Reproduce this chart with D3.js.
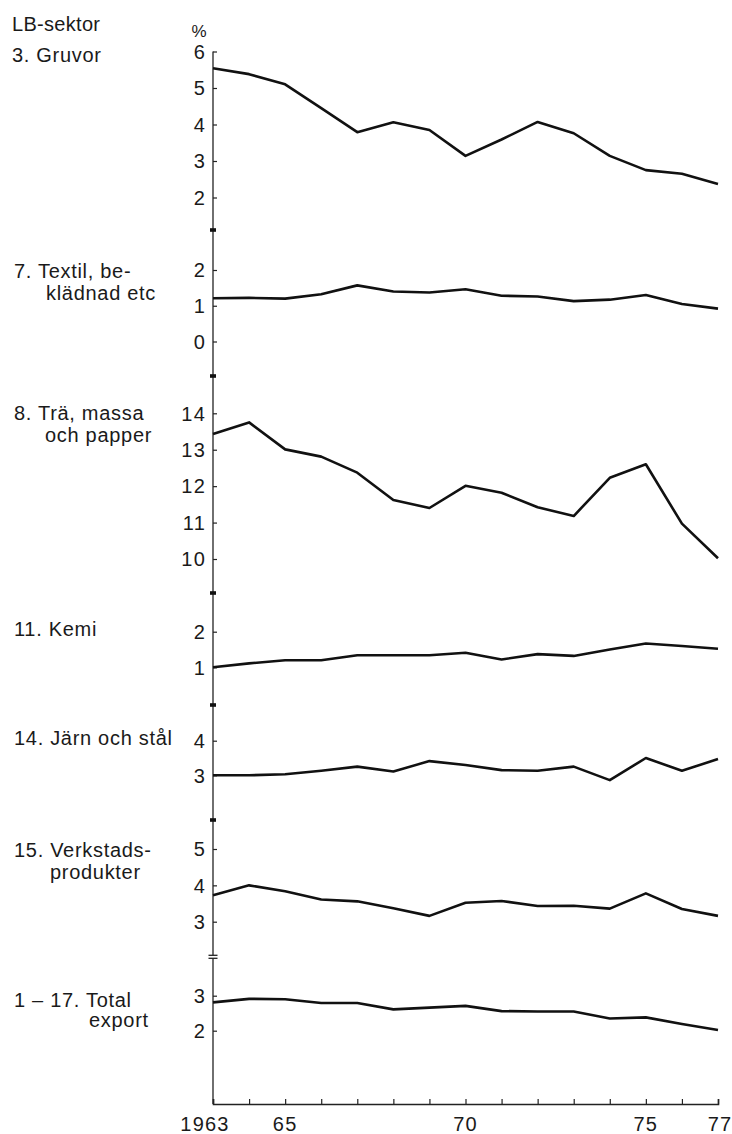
<!DOCTYPE html>
<html lang="sv">
<head>
<meta charset="UTF-8">
<title>LB-sektor</title>
<script src="https://cdnjs.cloudflare.com/ajax/libs/d3/7.8.5/d3.min.js"></script>
<style>
    body { margin: 0; background: #fff; }
    text { font-family: "Liberation Sans", Arial, sans-serif; fill: #1a1a1a; font-size: 20px; letter-spacing: 0.7px; }
    text.num { letter-spacing: 1.2px; }
    .series { fill: none; stroke: #111; stroke-width: 2.6; stroke-linejoin: round; }
    .axis-line { stroke: #222; stroke-width: 1.3; fill: none; }
</style>
</head>
<body>
<div id="chart"></div>
<script>
    // data
    const years = d3.range(1963, 1978);
    const xTickLabels = [[1963, "1963"], [1965, "65"], [1970, "70"], [1975, "75"], [1977, "77"]];

    const gruvor = [5.54, 5.38, 5.1, 4.45, 3.79, 4.06, 3.85, 3.14, 3.59, 4.07, 3.76, 3.14, 2.75, 2.65, 2.37];
    const textil = [1.21, 1.22, 1.2, 1.32, 1.57, 1.4, 1.37, 1.46, 1.28, 1.26, 1.13, 1.17, 1.3, 1.05, 0.92];
    const tra = [13.43, 13.75, 13.01, 12.81, 12.37, 11.62, 11.4, 12.01, 11.82, 11.42, 11.18, 12.23, 12.6, 10.97, 10.02];
    const kemi = [1.0, 1.11, 1.2, 1.2, 1.34, 1.34, 1.34, 1.41, 1.22, 1.37, 1.32, 1.5, 1.67, 1.6, 1.52];
    const jarn = [3.0, 3.0, 3.03, 3.13, 3.25, 3.11, 3.41, 3.3, 3.15, 3.13, 3.25, 2.86, 3.5, 3.13, 3.47];
    const verkstad = [3.73, 4.0, 3.84, 3.61, 3.56, 3.37, 3.16, 3.52, 3.57, 3.43, 3.44, 3.36, 3.78, 3.35, 3.16];
    const total = [2.81, 2.91, 2.9, 2.79, 2.79, 2.61, 2.66, 2.71, 2.56, 2.55, 2.55, 2.35, 2.38, 2.19, 2.02];

    const gruvorTicks = [2, 3, 4, 5, 6];
    const textilTicks = [0, 1, 2];
    const traTicks = [10, 11, 12, 13, 14];
    const kemiTicks = [1, 2];
    const jarnTicks = [3, 4];
    const verkstadTicks = [3, 4, 5];
    const totalTicks = [2, 3];

    // layout: each panel maps its lowest/highest tick to pixel rows
    const panels = [
        { values: gruvor, ticks: gruvorTicks, yTop: 51.5, yBot: 197.5,
          label: [["3. Gruvor", 12, 62]] },
        { values: textil, ticks: textilTicks, yTop: 270, yBot: 341.5,
          label: [["7. Textil, be-", 14, 278], ["klädnad etc", 46, 300]] },
        { values: tra, ticks: traTicks, yTop: 413.3, yBot: 559,
          label: [["8. Trä, massa", 14, 420], ["och papper", 45, 442]] },
        { values: kemi, ticks: kemiTicks, yTop: 631.7, yBot: 667.3,
          label: [["11. Kemi", 14, 636]] },
        { values: jarn, ticks: jarnTicks, yTop: 740.7, yBot: 775.3,
          label: [["14. Järn och stål", 14, 745]] },
        { values: verkstad, ticks: verkstadTicks, yTop: 849, yBot: 921.7,
          label: [["15. Verkstads-", 14, 857], ["produkter", 50, 879]] },
        { values: total, ticks: totalTicks, yTop: 995.7, yBot: 1030.7,
          label: [["1 – 17. Total", 14, 1007], ["export", 89, 1027]] }
    ];

    const width = 732, height = 1134;
    const axisX = 213, axisTop = 51.5, axisBottom = 1104;

    const svg = d3.select("#chart").append("svg")
        .attr("width", width)
        .attr("height", height);

    const x = d3.scaleLinear().domain([1963, 1977]).range([213, 718]);

    // header
    svg.append("text").attr("x", 12).attr("y", 31).style("letter-spacing", "0.3px").text("LB-sektor");
    svg.append("text").attr("x", 199).attr("y", 37).attr("text-anchor", "middle")
        .style("font-size", "17px").style("letter-spacing", "0").text("%");

    // vertical axis (with a gap at the double break mark)
    svg.append("line").attr("class", "axis-line")
        .attr("x1", axisX).attr("x2", axisX).attr("y1", axisTop).attr("y2", 955.3);
    svg.append("line").attr("class", "axis-line")
        .attr("x1", axisX).attr("x2", axisX).attr("y1", 958.3).attr("y2", axisBottom);

    // break marks
    [230, 376, 593, 705, 820].forEach(by => {
        svg.append("rect").attr("x", axisX - 3).attr("y", by - 1.8)
            .attr("width", 6).attr("height", 3.6).attr("fill", "#111");
    });
    [955.3, 958.3].forEach(by => {
        svg.append("line").attr("class", "axis-line")
            .attr("x1", axisX - 4.5).attr("x2", axisX + 4.5).attr("y1", by).attr("y2", by);
    });

    // panels
    panels.forEach(p => {
        const lo = d3.min(p.ticks), hi = d3.max(p.ticks);
        const y = d3.scaleLinear().domain([lo, hi]).range([p.yBot, p.yTop]);

        const yAxis = d3.axisRight(y).tickValues(p.ticks).tickSize(4).tickFormat("");
        const ga = svg.append("g").attr("transform", `translate(${axisX},0)`).call(yAxis);
        ga.select(".domain").remove();
        ga.selectAll(".tick line").attr("stroke", "#222").attr("stroke-width", 1.2);

        svg.selectAll(null).data(p.ticks).enter().append("text")
            .attr("class", "num")
            .attr("x", 206).attr("y", d => y(d)).attr("dy", "0.36em")
            .attr("text-anchor", "end")
            .text(d => d);

        p.label.forEach(([t, lx, ly]) => {
            svg.append("text").attr("x", lx).attr("y", ly).text(t);
        });

        const line = d3.line().x((d, i) => x(years[i])).y(d => y(d));
        svg.append("path").attr("class", "series").attr("d", line(p.values));
    });

    // x axis
    const xAxis = d3.axisTop(x).tickValues(years).tickSize(5).tickFormat("");
    const gx = svg.append("g").attr("transform", `translate(0,${axisBottom})`).call(xAxis);
    gx.select(".domain").attr("stroke", "#222").attr("stroke-width", 1.6);
    gx.selectAll(".tick line").attr("stroke", "#222").attr("stroke-width", 1.2);

    svg.selectAll(null).data(xTickLabels).enter().append("text")
        .attr("class", "num")
        .attr("x", d => x(d[0]) + (d[0] === 1963 ? -8 : d[0] === 1977 ? 2 : 0))
        .attr("y", 1131)
        .attr("text-anchor", "middle")
        .text(d => d[1]);
</script>
</body>
</html>
